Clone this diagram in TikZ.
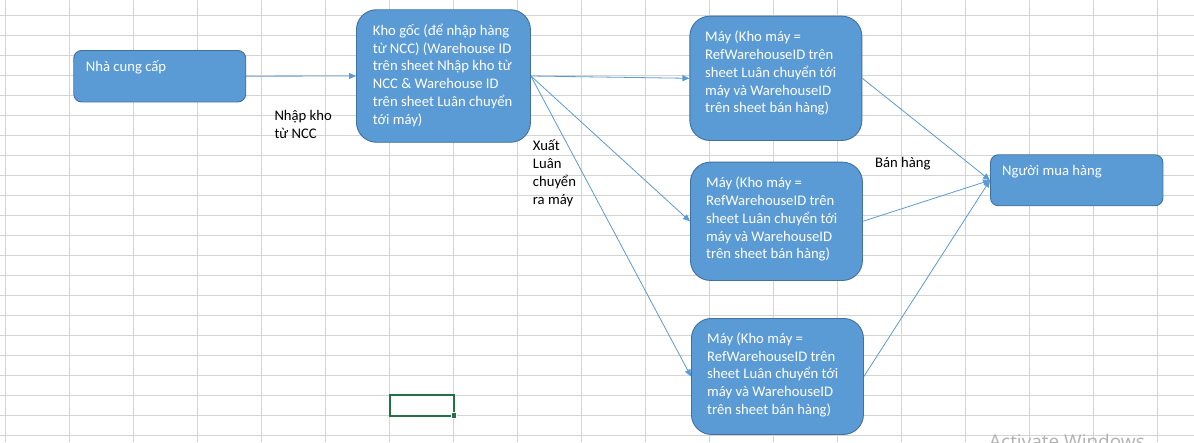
\documentclass[tikz,border=0pt]{standalone}
\usepackage{fontspec}
\setmainfont{Carlito}
\newfontfamily\wmfont{Open Sans}
\usetikzlibrary{arrows.meta}
\definecolor{boxfill}{HTML}{5B9BD5}
\definecolor{boxline}{HTML}{41719C}
\definecolor{gridc}{HTML}{D4D4D4}
\definecolor{selc}{HTML}{217346}
\definecolor{connc}{HTML}{5B9BD5}
\tikzset{
  box/.style={draw=boxline, fill=boxfill, line width=0.9pt, anchor=north west, inner sep=0pt},
  bigbox/.style={box, rounded corners=20pt},
  smallbox/.style={box, rounded corners=8pt},
  boxtext/.style={anchor=north west, inner sep=0pt, align=left, text=white,
    font=\fontsize{14.67}{17.8}\selectfont},
  lbl/.style={boxtext, text=black},
  connector/.style={draw=connc, line width=0.8pt, -{Triangle[length=7pt,width=6pt]}},
  gridline/.style={draw=gridc, line width=1pt}
}
\newcommand{\fl}{\rule{0pt}{16pt}}
\begin{document}
\begin{tikzpicture}[x=1pt,y=-1pt]
\useasboundingbox (0,0) rectangle (1194,442);
\clip (0,0) rectangle (1194,442);
\fill[white] (0,0) rectangle (1194,442);
% spreadsheet grid
\foreach \i in {0,...,18} \draw[gridline] (5.5+64*\i,0) -- (5.5+64*\i,442);
\foreach \j in {0,...,21} \draw[gridline] (0,15.5+20*\j) -- (1194,15.5+20*\j);
% selected cell
\draw[selc, line width=2pt] (389.5,394.5) rectangle (453.5,415.5);
\fill[white] (450.5,411.5) rectangle (457,418.5);
\fill[selc] (451.5,412.5) rectangle (456,417.5);
% boxes
\node[smallbox, minimum width=172pt, minimum height=51.5pt] (nha) at (73.3,50) {};
\node[bigbox, minimum width=174pt, minimum height=132.5pt] (kho) at (356,9.3) {};
\node[bigbox, minimum width=172pt, minimum height=124.3pt] (may1) at (689.4,15.7) {};
\node[bigbox, minimum width=172pt, minimum height=118.3pt] (may2) at (690,161.7) {};
\node[bigbox, minimum width=172pt, minimum height=116pt] (may3) at (691,318) {};
\node[smallbox, minimum width=172.5pt, minimum height=51pt] (nguoi) at (990,154.3) {};
% box texts
\node[boxtext] (nhat) at (85.7,55) {\fl Nhà cung cấp};
\node[boxtext] (khot) at (372.7,19) {\fl Kho gốc (để nhập hàng\\từ NCC) (Warehouse ID\\trên sheet Nhập kho từ\\NCC \& Warehouse ID\\trên sheet Luân chuyển\\tới máy)};
\node[boxtext] (may1t) at (705,25.5) {\fl Máy (Kho máy =\\RefWarehouseID trên\\sheet Luân chuyển tới\\máy và WarehouseID\\trên sheet bán hàng)};
\node[boxtext] (may2t) at (706,171.5) {\fl Máy (Kho máy =\\RefWarehouseID trên\\sheet Luân chuyển tới\\máy và WarehouseID\\trên sheet bán hàng)};
\node[boxtext] (may3t) at (707,327) {\fl Máy (Kho máy =\\RefWarehouseID trên\\sheet Luân chuyển tới\\máy và WarehouseID\\trên sheet bán hàng)};
\node[boxtext] (nguoit) at (1002,159.3) {\fl Người mua hàng};
% labels
\node[lbl] (l1) at (274.3,104) {\fl Nhập kho\\từ NCC};
\node[lbl] (l2) at (532.7,134.5) {\fl Xuất\\Luân\\chuyển\\ra máy};
\node[lbl] (l3) at (875,151.5) {\fl Bán hàng};
% connectors
\draw[connector] (nha.east) -- (kho.west);
\draw[connector] (kho.east) -- (may1.west);
\draw[connector] (kho.east) -- (may2.west);
\draw[connector] (kho.east) -- (may3.west);
\draw[connector] (may1.east) -- (nguoi.west);
\draw[connector] (may2.east) -- (nguoi.west);
\draw[connector] (may3.east) -- (nguoi.west);
% watermark
\node[anchor=base west, inner sep=0pt, text=black!30, font=\wmfont\fontsize{19}{19}\selectfont] (wm) at (989,448) {Activate Windows};
\end{tikzpicture}
\end{document}
